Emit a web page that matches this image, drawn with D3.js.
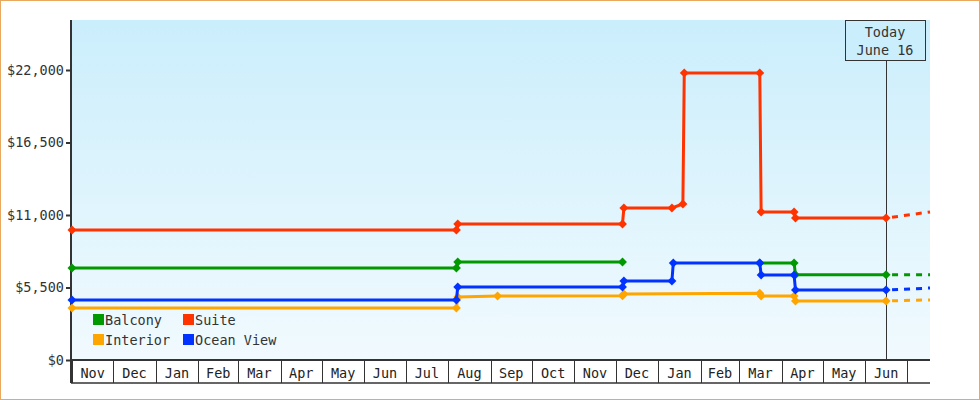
<!DOCTYPE html>
<html><head><meta charset="utf-8">
<script src="https://cdn.jsdelivr.net/npm/d3@7"></script>
<style>body{margin:0;background:#fff}svg{display:block;font-family:"DejaVu Sans Mono",monospace}</style>
</head><body>
<script>
var seriesNames = ['Balcony', 'Suite', 'Interior', 'Ocean View'];
var seriesColors = ['#009900', '#ff3300', '#ffa500', '#0033ff'];
var yTicks = [0, 5500, 11000, 16500, 22000];
var months = ['Nov','Dec','Jan','Feb','Mar','Apr','May','Jun','Jul','Aug','Sep','Oct','Nov','Dec','Jan','Feb','Mar','Apr','May','Jun'];

// [date, price]; null marks a gap
var balcony = [['2023-11-01',6980],['2024-08-07',6980],['2024-08-08',7435],['2024-12-06',7435],null,
  ['2025-03-16',7360],['2025-04-10',7360],['2025-04-11',6470],['2025-06-16',6470]];
var suite = [['2023-11-01',9860],['2024-08-07',9860],['2024-08-08',10320],['2024-12-06',10320],['2024-12-07',11530],
  ['2025-01-11',11530],['2025-01-19',11840],['2025-01-20',21780],['2025-03-16',21780],['2025-03-17',11230],
  ['2025-04-10',11230],['2025-04-11',10770],['2025-06-16',10770]];
var interior = [['2023-11-01',3950],['2024-08-07',3950],['2024-08-08',4780],['2024-09-06',4860],['2024-12-06',4880],
  ['2024-12-07',5010],['2025-03-16',5060],['2025-03-17',4860],['2025-04-10',4860],['2025-04-11',4480],['2025-06-16',4480]];
var oceanView = [['2023-11-01',4550],['2024-08-07',4550],['2024-08-08',5540],['2024-12-06',5540],['2024-12-07',5990],
  ['2025-01-11',5990],['2025-01-12',7360],['2025-03-16',7360],['2025-03-17',6450],['2025-04-10',6450],
  ['2025-04-11',5310],['2025-06-16',5310]];
var forecast = [[6470,6470],[10770,11230],[4480,4560],[5310,5460]];
var seriesData = [balcony, suite, interior, oceanView];

var W = 980, H = 400, L = 71, R = 930, T = 20, B = 360;
var parse = d3.timeParse('%Y-%m-%d');
var x = d3.scaleTime().domain([parse('2023-11-01'), parse('2025-07-18')]).range([72, R]);
var y = d3.scaleLinear().domain([0, 22000]).range([B, 70]);
var today = parse('2025-06-16');

var svg = d3.select('body').append('svg').attr('width', W).attr('height', H);
svg.append('rect').attr('x', 0.5).attr('y', 0.5).attr('width', W - 1).attr('height', H - 1)
  .attr('fill', '#fff').attr('stroke', '#e8a860');
var grad = svg.append('defs').append('linearGradient').attr('id', 'bg')
  .attr('x1', 0).attr('y1', 0).attr('x2', 0).attr('y2', 1);
grad.append('stop').attr('offset', 0).attr('stop-color', '#cbeefc');
grad.append('stop').attr('offset', 1).attr('stop-color', '#f1fafe');
svg.append('rect').attr('x', L).attr('y', T).attr('width', R - L).attr('height', B - T).attr('fill', 'url(#bg)');

// y axis
var ya = svg.append('g').attr('transform', 'translate(' + L + ',0)')
  .call(d3.axisLeft(y).tickValues(yTicks).tickSize(5).tickPadding(2).tickFormat(function (d) { return d ? d3.format('$,')(d) : '$0'; }));
ya.select('.domain').remove();
ya.selectAll('line').attr('stroke', '#333').attr('stroke-width', 2);
ya.selectAll('text').attr('font-family', 'DejaVu Sans Mono').attr('font-size', 13.5).attr('fill', '#333');
svg.append('line').attr('x1', L).attr('x2', L).attr('y1', T).attr('y2', 383).attr('stroke', '#333').attr('stroke-width', 2);

// month cells
var monthStarts = d3.timeMonth.range(parse('2023-11-01'), parse('2025-07-01'));
var xa = svg.append('g');
xa.append('line').attr('x1', L).attr('x2', R).attr('y1', B).attr('y2', B).attr('stroke', '#333').attr('stroke-width', 2);
xa.append('line').attr('x1', L).attr('x2', R).attr('y1', 383).attr('y2', 383).attr('stroke', '#333').attr('stroke-width', 1.5);
xa.selectAll('.ml').data(monthStarts.concat([parse('2025-07-01')])).enter().append('line')
  .attr('x1', function (d) { return Math.round(x(d)) + 0.5; }).attr('x2', function (d) { return Math.round(x(d)) + 0.5; })
  .attr('y1', B).attr('y2', 383).attr('stroke', '#333');
xa.selectAll('.mt').data(monthStarts).enter().append('text')
  .attr('x', function (d, i) { return (x(d) + x(d3.timeMonth.offset(d, 1))) / 2; })
  .attr('y', 378).attr('text-anchor', 'middle').attr('font-size', 13.5).attr('fill', '#222')
  .text(function (d, i) { return months[i]; });

// today marker
svg.append('line').attr('x1', Math.round(x(today)) + 0.5).attr('x2', Math.round(x(today)) + 0.5)
  .attr('y1', 60).attr('y2', B).attr('stroke', '#333');
svg.append('rect').attr('x', 845.5).attr('y', 20.5).attr('width', 80).attr('height', 40)
  .attr('fill', '#cbeefc').attr('stroke', '#333');
svg.append('text').attr('x', 885).attr('y', 37).attr('text-anchor', 'middle').attr('font-size', 13.5).attr('fill', '#333').text('Today');
svg.append('text').attr('x', 885).attr('y', 55).attr('text-anchor', 'middle').attr('font-size', 13.5).attr('fill', '#333').text('June 16');

// series
var line = d3.line().defined(function (d) { return d; })
  .x(function (d) { return x(parse(d[0])); }).y(function (d) { return y(d[1]); });
seriesData.forEach(function (data, i) {
  var c = seriesColors[i];
  svg.append('path').attr('d', d3.line()([[x(today), y(forecast[i][0])], [x.range()[1], y(forecast[i][1])]]))
    .attr('fill', 'none').attr('stroke', c).attr('stroke-width', 3).attr('stroke-dasharray', '6,6')
    .attr('stroke-dashoffset', -6);
  svg.append('path').datum(data).attr('d', line).attr('fill', 'none').attr('stroke', c).attr('stroke-width', 3);
  svg.selectAll(null).data(data.filter(function (d) { return d; })).enter().append('path')
    .attr('d', d3.symbol(d3.symbolSquare, 40))
    .attr('transform', function (d) { return 'translate(' + x(parse(d[0])) + ',' + y(d[1]) + ') rotate(45)'; })
    .attr('fill', c);
});

// legend
var lg = svg.append('g');
seriesNames.forEach(function (n, i) {
  var lx = 93 + (i % 2) * 90, ly = 314 + Math.floor(i / 2) * 20;
  lg.append('rect').attr('x', lx).attr('y', ly).attr('width', 11).attr('height', 11).attr('fill', seriesColors[i]);
  lg.append('text').attr('x', lx + 12).attr('y', ly + 11).attr('font-size', 13.5).attr('fill', '#333').text(n);
});
</script>
</body></html>
